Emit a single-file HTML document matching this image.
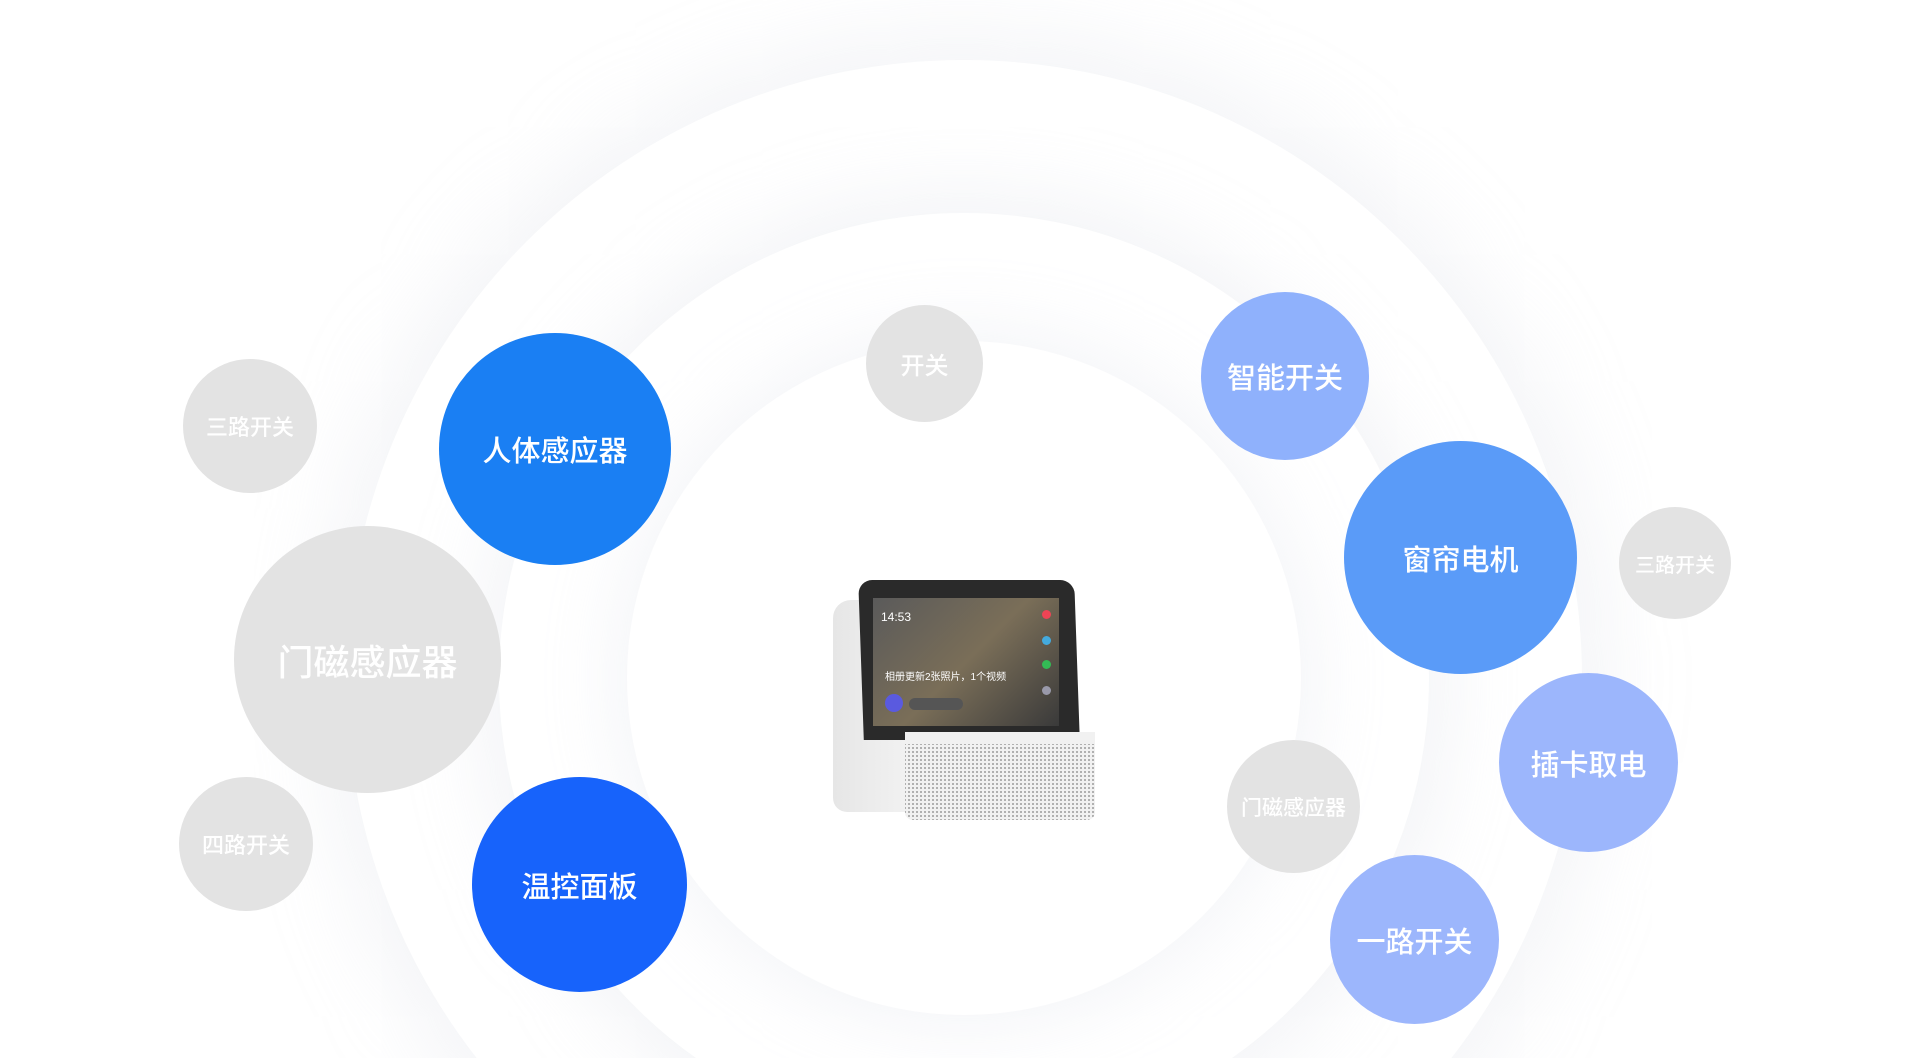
<!DOCTYPE html>
<html><head><meta charset="utf-8"><style>
html,body{margin:0;padding:0;width:1920px;height:1058px;overflow:hidden;background:#fff;font-family:"Liberation Sans","Noto Sans CJK SC",sans-serif}
#w{position:relative;width:1920px;height:1058px;overflow:hidden}
.ring{position:absolute;border-radius:50%;background:#fff}
.c{position:absolute;border-radius:50%;display:flex;align-items:center;justify-content:center;color:#fff;font-weight:500;white-space:nowrap}
.g{background:#e3e3e3}
</style></head><body><div id="w">
<div class="ring" style="left:346px;top:60px;width:1236px;height:1236px;box-shadow:0 0 90px 20px rgba(208,212,224,.28)"></div>
<div class="ring" style="left:499px;top:213px;width:930px;height:930px;box-shadow:0 0 80px 18px rgba(208,212,224,.28)"></div>
<div class="ring" style="left:627px;top:341px;width:674px;height:674px;box-shadow:0 0 70px 14px rgba(208,212,224,.24)"></div>

<div class="c g" style="left:183px;top:359px;width:134px;height:134px;font-size:22px">三路开关</div>
<div class="c" style="left:439px;top:333px;width:232px;height:232px;background:#1a7ff3;font-size:29px">人体感应器</div>
<div class="c g" style="left:866px;top:305px;width:117px;height:117px;font-size:24px">开关</div>
<div class="c" style="left:1201px;top:292px;width:168px;height:168px;background:#8fb1fc;font-size:29px">智能开关</div>
<div class="c" style="left:1344px;top:441px;width:233px;height:233px;background:#5a9bf8;font-size:29px">窗帘电机</div>
<div class="c g" style="left:1619px;top:507px;width:112px;height:112px;font-size:20px">三路开关</div>
<div class="c g" style="left:234px;top:526px;width:267px;height:267px;font-size:36px">门磁感应器</div>
<div class="c" style="left:1499px;top:673px;width:179px;height:179px;background:#9cb6fc;font-size:29px">插卡取电</div>
<div class="c g" style="left:1227px;top:740px;width:133px;height:133px;font-size:21px">门磁感应器</div>
<div class="c g" style="left:179px;top:777px;width:134px;height:134px;font-size:22px">四路开关</div>
<div class="c" style="left:472px;top:777px;width:215px;height:215px;background:#1763fb;font-size:29px">温控面板</div>
<div class="c" style="left:1330px;top:855px;width:169px;height:169px;background:#9cb6fc;font-size:29px">一路开关</div>

<div style="position:absolute;left:833px;top:580px;width:268px;height:242px">
  <div style="position:absolute;left:0;top:20px;width:90px;height:212px;background:linear-gradient(90deg,#e6e6e6,#f4f4f4);border-radius:18px 0 0 14px"></div>
  <div style="position:absolute;left:28px;top:0;width:216px;height:160px;background:#2a2a2a;border-radius:14px 14px 0 0;transform:skewX(2deg)"></div>
  <div style="position:absolute;left:40px;top:18px;width:186px;height:128px;background:linear-gradient(135deg,#5a5a5a,#7a6e58 50%,#3a3a3a);">
    <div style="position:absolute;left:8px;top:12px;color:#fff;font-size:12px">14:53</div>
    <div style="position:absolute;left:12px;top:70px;color:#fff;font-size:10px">相册更新2张照片，1个视频</div>
    <div style="position:absolute;left:12px;top:96px;width:18px;height:18px;border-radius:50%;background:#5a5adf"></div>
    <div style="position:absolute;left:36px;top:100px;width:54px;height:12px;border-radius:6px;background:#555"></div>
    <div style="position:absolute;right:8px;top:12px;width:9px;height:9px;border-radius:50%;background:#e45"></div>
    <div style="position:absolute;right:8px;top:38px;width:9px;height:9px;border-radius:50%;background:#4ad"></div>
    <div style="position:absolute;right:8px;top:62px;width:9px;height:9px;border-radius:50%;background:#3b5"></div>
    <div style="position:absolute;right:8px;top:88px;width:9px;height:9px;border-radius:50%;background:#99a"></div>
  </div>
  <div style="position:absolute;left:72px;top:152px;width:190px;height:88px;background-color:#f1f1f1;border-radius:0 0 8px 8px;background-image:radial-gradient(#a0a0a0 0.9px,transparent 1.1px);background-size:4px 4px;background-position:6px 14px"></div>
  <div style="position:absolute;left:72px;top:152px;width:190px;height:12px;background:#f1f1f1"></div>
</div>
</div></body></html>
